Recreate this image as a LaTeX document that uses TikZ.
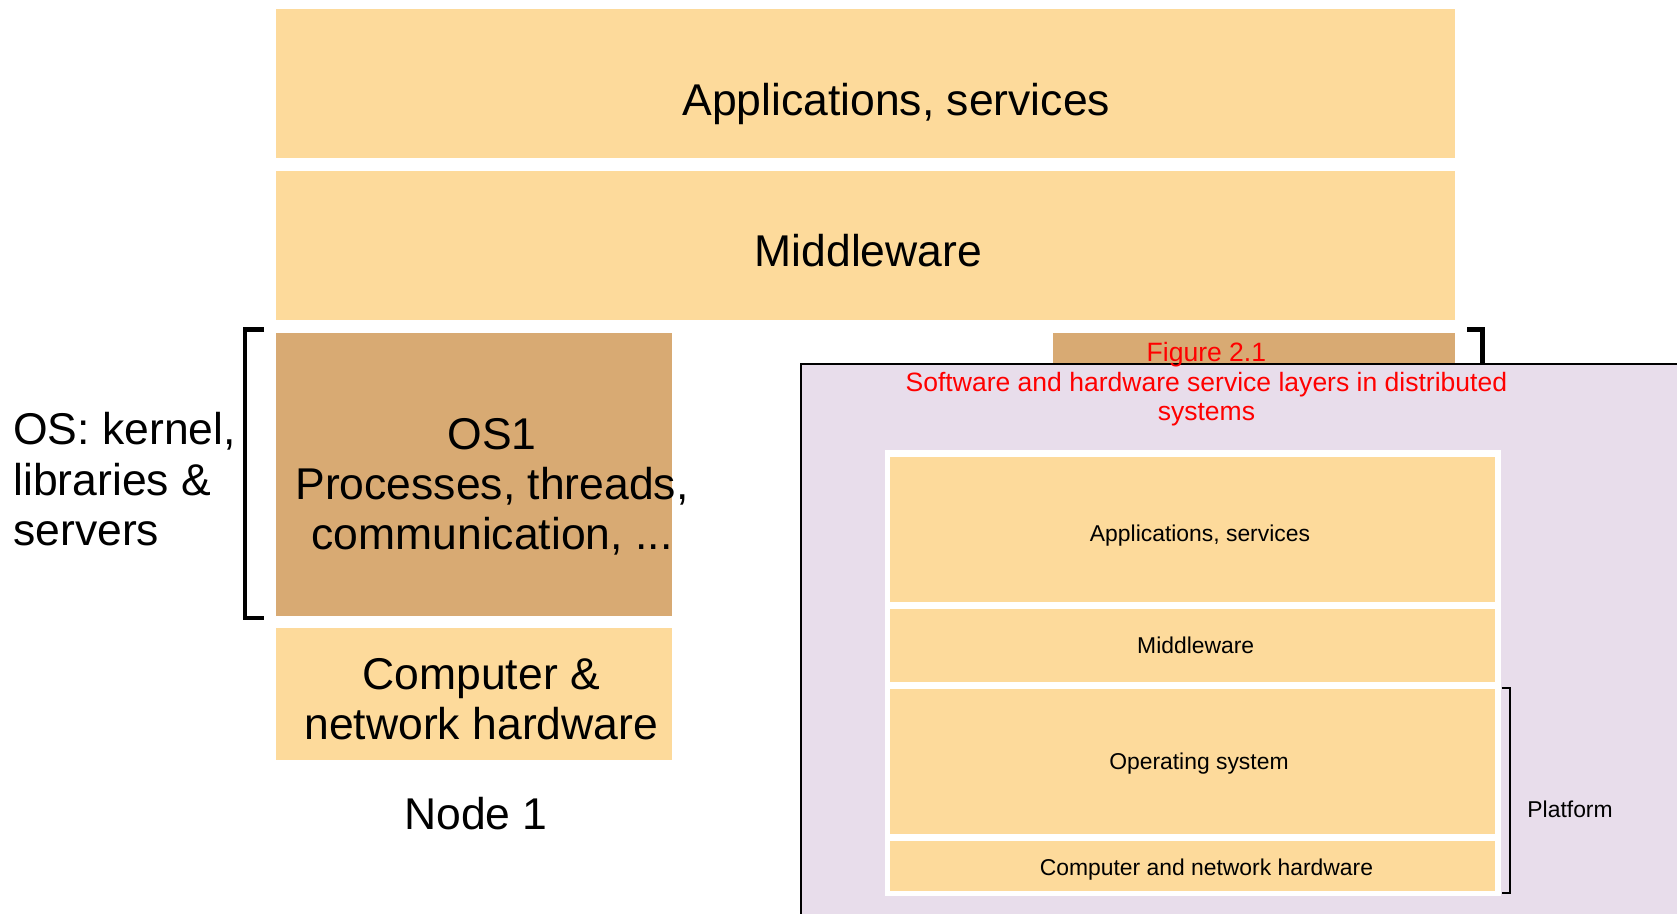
\documentclass[tikz,border=0pt]{standalone}
\usepackage{fontspec}
\setmainfont{Liberation Sans}
\definecolor{lite}{RGB}{253,218,155}
\definecolor{tanb}{RGB}{216,170,115}
\definecolor{lav}{RGB}{232,221,235}
\definecolor{redt}{RGB}{255,0,0}
\begin{document}
\begin{tikzpicture}[x=0.5pt,y=-0.5pt,
  big/.style={font=\fontsize{20.8}{23.5}\selectfont, align=center, inner sep=0},
  small/.style={font=\fontsize{10.7}{12.5}\selectfont, inner sep=0},
  redtxt/.style={font=\fontsize{12.4}{13.5}\selectfont, text=redt, align=center, inner sep=0},
  brk/.style={draw=black, line width=2pt},
  brkthin/.style={draw=black, line width=1pt}]
\useasboundingbox (0,0) rectangle (1568,854);
% main stack
\fill[lite] (258,8) rectangle (1360,148);
\fill[lite] (258,160) rectangle (1360,299);
\fill[tanb] (258,311) rectangle (628,576);
\fill[lite] (258,587) rectangle (628,711);
\fill[tanb] (985,311) rectangle (1360,345);
\node[big] (app) at (838,97) {Applications, services};
\node[big] (mid) at (812,234) {Middleware};
\node[big] (os1) at (460,455) {OS1\\Processes, threads,\\communication, ...};
\node[big] (hw) at (450,654) {Computer \&\\network hardware};
\node[big] (node1) at (445,761) {Node 1};
\node[big, align=left, anchor=west] (ostxt) at (12,448) {OS: kernel,\\libraries \&\\servers};
% brackets
\draw[brk] (247,308) -- (229,308) -- (229,578) -- (247,578);
\draw[brk] (1372,308) -- (1386,308) -- (1386,345);
% overlay
\draw[line width=1pt, fill=lav] (749,340) rectangle (1600,900);
\node[redtxt] (fig) at (1128,332) {Figure 2.1};
\node[redtxt] (cap) at (1128,373) {Software and hardware service layers in distributed\\systems};
\fill[white] (827,421) rectangle (1403,838);
\fill[lite] (832,427) rectangle (1398,563);
\fill[lite] (832,569) rectangle (1398,638);
\fill[lite] (832,644) rectangle (1398,780);
\fill[lite] (832,786) rectangle (1398,833);
\node[small] (sapp) at (1122,501) {Applications, services};
\node[small] (smid) at (1118,603) {Middleware};
\node[small] (sos) at (1121,714) {Operating system};
\node[small] (shw) at (1128,813) {Computer and network hardware};
\draw[brkthin] (1404,643) -- (1412,643) -- (1412,835) -- (1404,835);
\node[small] (plat) at (1468,757) {Platform};
\end{tikzpicture}
\end{document}
